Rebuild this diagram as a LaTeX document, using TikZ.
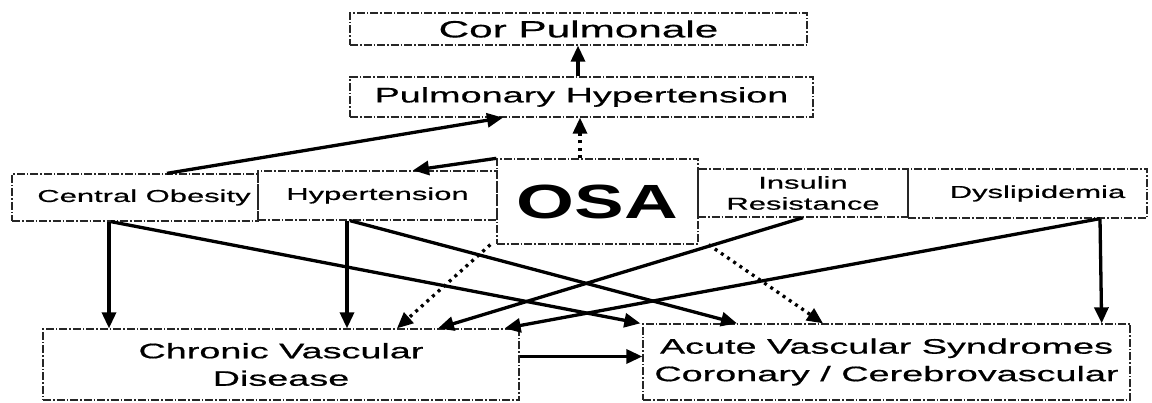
\documentclass[tikz,border=0pt]{standalone}
\usepackage{fontspec}
\setmainfont[FakeStretch=1.8,FakeBold=0.6]{Liberation Sans}
\newfontfamily\osafont[FakeStretch=1.55]{Liberation Sans}
\usetikzlibrary{arrows.meta,calc}
\tikzset{
  box/.style={draw=black!85, line width=1.3pt, dash pattern=on 8pt off 2pt on 1.5pt off 2pt,
    rectangle, inner sep=0pt, align=center, text=black},
  conn/.style={line width=3.3pt, -{Triangle[length=16pt,width=14pt]}},
  dotconn/.style={line width=3.3pt, dash pattern=on 3pt off 4.5pt,
    -{Triangle[length=16pt,width=14pt]}},
  rowtext/.style={font=\fontsize{17.2}{22}\selectfont},
  bigtext/.style={font=\fontsize{21}{27.5}\selectfont},
}
\begin{document}
\begin{tikzpicture}[x=1pt,y=-1pt]
\useasboundingbox[fill=white] (0,0) rectangle (1152,403);
% boxes
\node[box, minimum width=457pt, minimum height=32pt, font=\fontsize{23.5}{28}\selectfont]
  (cp) at (578.5,29) {Cor Pulmonale};
\node[box, minimum width=463pt, minimum height=40pt, font=\fontsize{21}{26}\selectfont]
  (ph) at (581.5,97) {Pulmonary Hypertension};
\node[box, rowtext, minimum width=246pt, minimum height=47pt] (co) at (135,197.5) {\hspace*{18pt}Central Obesity};
\node[box, rowtext, minimum width=239pt, minimum height=49pt] (ht) at (377.5,195.5) {Hypertension};
\node[box, minimum width=201pt, minimum height=85pt, font=\osafont\bfseries\fontsize{48}{50}\selectfont]
  (osa) at (597.5,201.5) {OSA};
\node[box, minimum width=210pt, minimum height=48pt, font=\fontsize{17.2}{21}\selectfont]
  (ir) at (803,193) {Insulin\\Resistance};
\node[box, rowtext, minimum width=239pt, minimum height=49pt] (dl) at (1027.5,193.5) {\hspace*{20pt}Dyslipidemia};
\node[box, bigtext, minimum width=476pt, minimum height=71pt] (cvd) at (281,364.5) {Chronic Vascular\\Disease};
\node[box, bigtext, minimum width=487pt, minimum height=76pt] (avs) at (886.5,362) {Acute Vascular Syndromes\\Coronary / Cerebrovascular};
% connectors
\draw[conn] ([xshift=-3.5pt]ph.north) -- ([xshift=-0.5pt]cp.south);
\draw[dotconn] ([xshift=-17.5pt]osa.north) -- ([xshift=-1.5pt]ph.south);
\draw[conn] ([xshift=32pt]co.north) -- ([xshift=-78.5pt]ph.south);
\draw[conn] (osa.north west) -- ([xshift=35.5pt]ht.north);
\draw[conn] ([xshift=-26pt]co.south) -- ([xshift=-172pt]cvd.north);
\draw[conn] ([xshift=-24pt]co.south) -- ([xshift=-2pt]avs.north west);
\draw[conn] ([xshift=-30.5pt]ht.south) -- ([xshift=66pt]cvd.north);
\draw[conn] ([xshift=-27.5pt]ht.south) -- ([xshift=-149.5pt]avs.north);
\draw[dotconn] ([xshift=-6pt]osa.south west) -- ([xshift=116pt]cvd.north);
\draw[dotconn] ([xshift=10pt]osa.south east) -- ([xshift=-63.5pt]avs.north);
\draw[conn] (ir.south) -- ([xshift=157pt]cvd.north);
\draw[conn] ([xshift=72.5pt]dl.south) -- ([xshift=-15pt]cvd.north east);
\draw[conn] ([xshift=72.5pt]dl.south) -- ([xshift=-29pt]avs.north east);
\draw[conn] ([yshift=8pt]cvd.east) -- ([yshift=8pt]cvd.east -| avs.west);
\end{tikzpicture}
\end{document}
